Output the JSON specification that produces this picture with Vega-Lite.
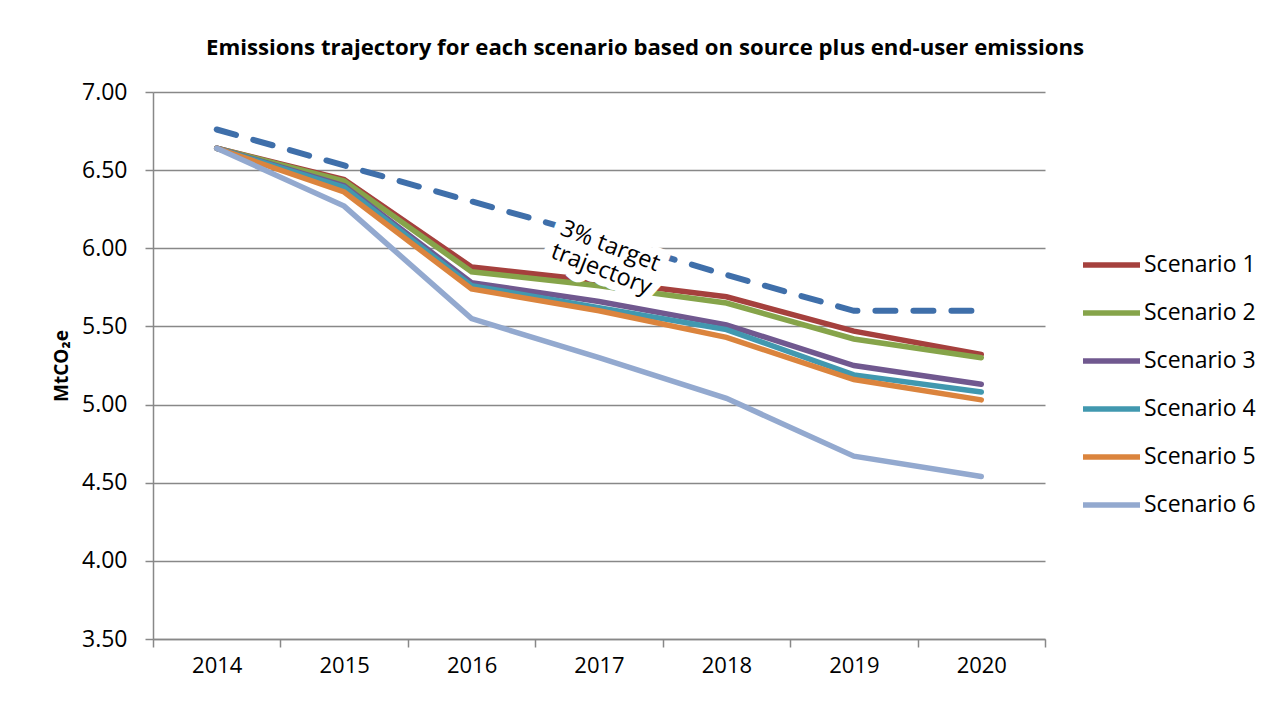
{
  "$schema": "https://vega.github.io/schema/vega-lite/v6.json",
  "width": 892,
  "height": 547,
  "autosize": "none",
  "padding": {"left": 153, "top": 92, "right": 237, "bottom": 63},
  "background": "white",
  "config": {
    "font": "Open Sans",
    "view": {"stroke": null},
    "title": {"font": "Open Sans", "fontSize": 22.2, "fontWeight": "bold", "color": "black"}
  },
  "title": {"text": "Emissions trajectory for each scenario based on source plus end-user emissions", "anchor": "middle", "offset": 22, "dx": 46},
  "datasets": {
    "scen": [
      {"year": "2014", "series": "Scenario 1", "value": 6.64},
      {"year": "2015", "series": "Scenario 1", "value": 6.44},
      {"year": "2016", "series": "Scenario 1", "value": 5.88},
      {"year": "2017", "series": "Scenario 1", "value": 5.79},
      {"year": "2018", "series": "Scenario 1", "value": 5.69},
      {"year": "2019", "series": "Scenario 1", "value": 5.47},
      {"year": "2020", "series": "Scenario 1", "value": 5.32},
      {"year": "2014", "series": "Scenario 2", "value": 6.64},
      {"year": "2015", "series": "Scenario 2", "value": 6.43},
      {"year": "2016", "series": "Scenario 2", "value": 5.85},
      {"year": "2017", "series": "Scenario 2", "value": 5.76},
      {"year": "2018", "series": "Scenario 2", "value": 5.65},
      {"year": "2019", "series": "Scenario 2", "value": 5.42},
      {"year": "2020", "series": "Scenario 2", "value": 5.30},
      {"year": "2014", "series": "Scenario 3", "value": 6.64},
      {"year": "2015", "series": "Scenario 3", "value": 6.40},
      {"year": "2016", "series": "Scenario 3", "value": 5.78},
      {"year": "2017", "series": "Scenario 3", "value": 5.66},
      {"year": "2018", "series": "Scenario 3", "value": 5.51},
      {"year": "2019", "series": "Scenario 3", "value": 5.25},
      {"year": "2020", "series": "Scenario 3", "value": 5.13},
      {"year": "2014", "series": "Scenario 4", "value": 6.64},
      {"year": "2015", "series": "Scenario 4", "value": 6.39},
      {"year": "2016", "series": "Scenario 4", "value": 5.76},
      {"year": "2017", "series": "Scenario 4", "value": 5.62},
      {"year": "2018", "series": "Scenario 4", "value": 5.48},
      {"year": "2019", "series": "Scenario 4", "value": 5.19},
      {"year": "2020", "series": "Scenario 4", "value": 5.08},
      {"year": "2014", "series": "Scenario 5", "value": 6.64},
      {"year": "2015", "series": "Scenario 5", "value": 6.36},
      {"year": "2016", "series": "Scenario 5", "value": 5.74},
      {"year": "2017", "series": "Scenario 5", "value": 5.60},
      {"year": "2018", "series": "Scenario 5", "value": 5.43},
      {"year": "2019", "series": "Scenario 5", "value": 5.16},
      {"year": "2020", "series": "Scenario 5", "value": 5.03},
      {"year": "2014", "series": "Scenario 6", "value": 6.64},
      {"year": "2015", "series": "Scenario 6", "value": 6.27},
      {"year": "2016", "series": "Scenario 6", "value": 5.55},
      {"year": "2017", "series": "Scenario 6", "value": 5.30},
      {"year": "2018", "series": "Scenario 6", "value": 5.04},
      {"year": "2019", "series": "Scenario 6", "value": 4.67},
      {"year": "2020", "series": "Scenario 6", "value": 4.54}
    ],
    "target": [
      {"year": "2014", "value": 6.76},
      {"year": "2015", "value": 6.53},
      {"year": "2016", "value": 6.30},
      {"year": "2017", "value": 6.07},
      {"year": "2018", "value": 5.83},
      {"year": "2019", "value": 5.60},
      {"year": "2020", "value": 5.60}
    ],
    "label": [
      {"year": "2017", "value": 6.04, "text": "3% target\ntrajectory"}
    ]
  },
  "encoding": {
    "x": {
      "field": "year", "type": "ordinal",
      "scale": {"type": "band", "paddingInner": 0, "paddingOuter": 0},
      "axis": {
        "title": null, "labelAngle": 0, "tickBand": "extent", "grid": false,
        "domainColor": "#888888", "domainWidth": 1.5, "tickColor": "#888888", "tickWidth": 1.5, "tickSize": 8,
        "labelFontSize": 22, "labelColor": "black", "labelPadding": 8, "labelFont": "Open Sans"
      }
    },
    "y": {
      "field": "value", "type": "quantitative",
      "scale": {"domain": [3.5, 7], "nice": false, "zero": false},
      "axis": {
        "title": "MtCO₂e", "titleFontSize": 19, "titleFontWeight": "bold", "titleColor": "black", "titlePadding": 10, "titleFont": "Open Sans",
        "values": [3.5, 4, 4.5, 5, 5.5, 6, 6.5, 7], "format": ".2f",
        "gridColor": "#888888", "gridWidth": 1.5,
        "domainColor": "#888888", "domainWidth": 1.5, "tickColor": "#888888", "tickWidth": 1.5, "tickSize": 8,
        "labelFontSize": 23, "labelColor": "black", "labelPadding": 18, "labelFont": "Open Sans"
      }
    }
  },
  "layer": [
    {
      "data": {"name": "target"},
      "mark": {"type": "line", "color": "#3F6FAA", "strokeWidth": 6, "strokeDash": [20, 18], "strokeCap": "round"}
    },
    {
      "data": {"name": "scen"},
      "mark": {"type": "line", "strokeWidth": 5.5, "strokeCap": "round"},
      "encoding": {
        "color": {
          "field": "series", "type": "nominal",
          "scale": {
            "domain": ["Scenario 1", "Scenario 2", "Scenario 3", "Scenario 4", "Scenario 5", "Scenario 6"],
            "range": ["#A5403D", "#86A44A", "#70588F", "#4198AF", "#DB843D", "#93A9CF"]
          },
          "legend": {
            "title": null, "orient": "none", "legendX": 927, "legendY": 149,
            "symbolType": "stroke", "symbolSize": 3249, "symbolStrokeWidth": 5.5,
            "clipHeight": 48, "rowPadding": 0,
            "labelFontSize": 23, "labelColor": "black", "labelOffset": 1, "labelFont": "Open Sans"
          }
        }
      }
    },
    {
      "data": {"name": "label"},
      "mark": {"type": "text", "angle": 21, "dx": 12, "fontSize": 23.5, "font": "Open Sans", "lineBreak": "\n", "lineHeight": 25, "color": "white", "stroke": "white", "strokeWidth": 16, "align": "center", "baseline": "middle"},
      "encoding": {"text": {"field": "text"}}
    },
    {
      "data": {"name": "label"},
      "mark": {"type": "text", "angle": 21, "dx": 12, "fontSize": 23.5, "font": "Open Sans", "lineBreak": "\n", "lineHeight": 25, "color": "black", "align": "center", "baseline": "middle"},
      "encoding": {"text": {"field": "text"}}
    }
  ]
}
